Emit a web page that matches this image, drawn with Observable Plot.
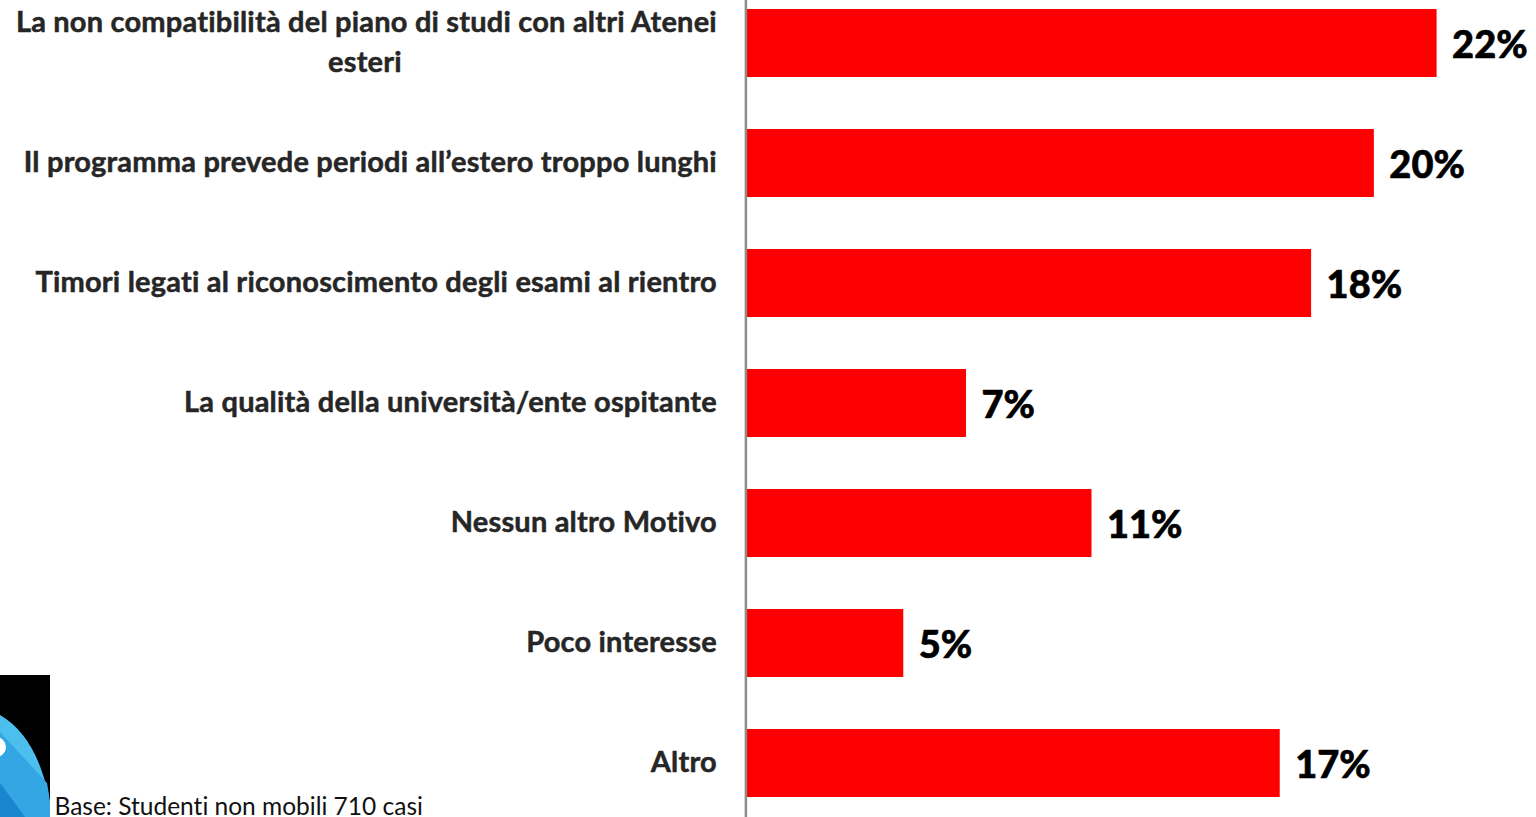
<!DOCTYPE html>
<html><head><meta charset="utf-8">
<script src="https://cdn.jsdelivr.net/npm/d3@7"></script>
<script src="https://cdn.jsdelivr.net/npm/@observablehq/plot@0.6"></script>
<style>
html,body{margin:0;padding:0;background:#fff;overflow:hidden;width:1536px;height:817px}
#chart{position:absolute;left:0;top:0}
#chart svg{display:block;background:transparent}
#chart text{font-variant-ligatures:none}
#chart .lab{letter-spacing:.2px}
#logo{position:absolute;left:0;top:675px}
</style></head><body>
<svg id="logo" width="50" height="142" viewBox="0 0 50 142">
<rect width="50" height="142" fill="#000"/>
<path d="M0 40 Q38 62 50 128 V142 H0 Z" fill="#4dbfef"/>
<path d="M0 57 L47 108 Q49 118 50 128 V142 H0 Z" fill="#33a6e3"/>
<path d="M0 108 L25 142 H0 Z" fill="#1a86d0"/>
<circle cx="-4" cy="72" r="10" fill="#fff"/>
</svg>
<div id="chart"></div>
<script>
const categories = ["La non compatibilità del piano di studi con altri Atenei","Il programma prevede periodi all’estero troppo lunghi","Timori legati al riconoscimento degli esami al rientro","La qualità della università/ente ospitante","Nessun altro Motivo","Poco interesse","Altro"];
const values = [22,20,18,7,11,5,17];
const wrapped = ["esteri"];
const note = "Base: Studenti non mobili 710 casi";
const rows = categories.map((c,i)=>({c,v:values[i]}));
const labelStyle = {className:"lab",fontFamily:"Lato",fontWeight:700,fontSize:29,fill:"#262626",stroke:"#262626",strokeWidth:0.5};
const fig = Plot.plot({
  width:1536,height:817,margin:0,
  x:{domain:[0,22],range:[746.4,1436.6],axis:null},
  y:{domain:categories,range:[-18.2,824.6],paddingInner:0.433,paddingOuter:0.2165,axis:null},
  marks:[
    Plot.barX(rows,{x:"v",y:"c",fill:"#ff0000"}),
    Plot.ruleX([0],{stroke:"#8c8c8c",strokeWidth:2.5,dx:-1}),
    Plot.text(rows.slice(1),{x:0,y:"c",text:"c",textAnchor:"end",dx:-30,dy:-0.7,...labelStyle}),
    Plot.text(rows.slice(0,1),{x:0,y:"c",text:"c",textAnchor:"end",dx:-30,dy:-20.5,...labelStyle}),
    Plot.text(wrapped,{x:0,y:()=>categories[0],text:d=>d,textAnchor:"middle",dx:-382,dy:19,...labelStyle}),
    Plot.text(rows,{x:"v",y:"c",text:d=>d.v+"%",textAnchor:"start",dx:15,dy:2.5,fontFamily:"Lato",fontWeight:900,fontSize:38,fill:"#000",stroke:"#000",strokeWidth:0.6}),
    Plot.text([note],{text:d=>d,frameAnchor:"bottom-left",dx:54,dy:-3,textAnchor:"start",lineAnchor:"bottom",fontFamily:"Lato",fontSize:24.5,fill:"#111"})
  ]
});
document.getElementById("chart").append(fig);
</script></body></html>
